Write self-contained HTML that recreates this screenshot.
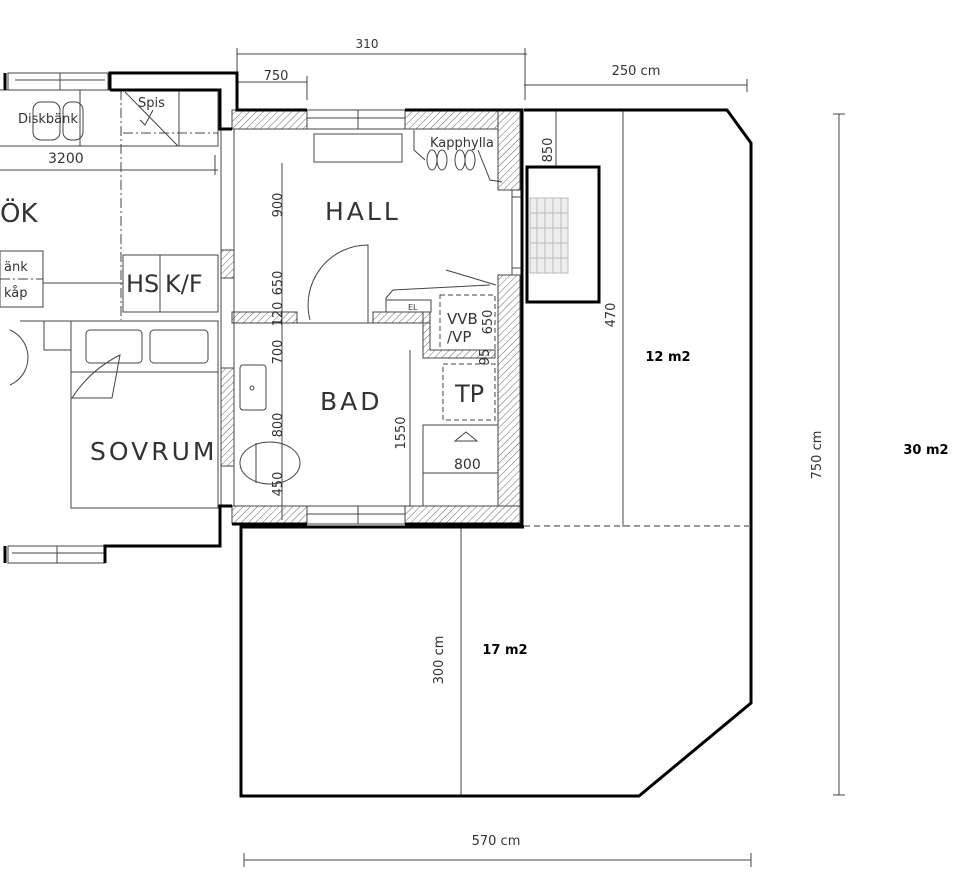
<!DOCTYPE html>
<html><head><meta charset="utf-8"><style>
html,body{margin:0;padding:0;background:#fff;width:974px;height:882px;overflow:hidden}
svg{display:block}
text{font-family:"DejaVu Sans","Liberation Sans",sans-serif}
.pl{fill:#333}
</style></head><body>
<svg width="974" height="882" viewBox="0 0 974 882" xmlns="http://www.w3.org/2000/svg">
<defs>
<pattern id="h" width="5" height="5" patternUnits="userSpaceOnUse" patternTransform="rotate(45)">
<rect width="5" height="5" fill="#fff"/><line x1="0" y1="0" x2="0" y2="5" stroke="#666" stroke-width="1"/>
</pattern>
</defs>
<g stroke="#444" stroke-width="1" fill="none">
<rect x="232" y="110" width="75" height="19" fill="url(#h)"/>
<rect x="405" y="110" width="115" height="19" fill="url(#h)"/>
<rect x="498" y="110" width="22" height="80" fill="url(#h)"/>
<rect x="498" y="275" width="22" height="250" fill="url(#h)"/>
<rect x="232" y="506" width="75" height="18" fill="url(#h)"/>
<rect x="405" y="506" width="115" height="18" fill="url(#h)"/>
<rect x="232" y="312" width="65" height="11" fill="url(#h)"/>
<rect x="373" y="312" width="57" height="11" fill="url(#h)"/>
<path d="M423,312 H430 V350 H495 V358 H423 Z" fill="url(#h)"/>
<rect x="221" y="250" width="13" height="28" fill="url(#h)"/>
<rect x="221" y="368" width="13" height="98" fill="url(#h)"/>
<rect x="307" y="110" width="98" height="19"/><line x1="307" y1="118" x2="405" y2="118"/><line x1="358" y1="110" x2="358" y2="129"/>
<rect x="307" y="506" width="98" height="18"/><line x1="307" y1="514" x2="405" y2="514"/><line x1="358" y1="506" x2="358" y2="524"/>
<rect x="8" y="73" width="100" height="17"/><line x1="15" y1="80" x2="105" y2="80"/><line x1="60" y1="73" x2="60" y2="90"/>
<rect x="8" y="546" width="97" height="17"/><line x1="12" y1="553" x2="105" y2="553"/><line x1="57" y1="546" x2="57" y2="563"/>
<line x1="512" y1="190" x2="512" y2="275"/><rect x="512" y="268" width="9" height="7"/><rect x="512" y="190" width="9" height="7"/>
<line x1="234" y1="129" x2="234" y2="506"/><line x1="221" y1="130" x2="221" y2="506"/>
<rect x="314" y="134" width="88" height="28"/>
<line x1="234" y1="323" x2="430" y2="323"/>
<path d="M310,320 A60,60 0 0 1 368,245 V323"/>
<line x1="282" y1="163" x2="282" y2="520"/><line x1="410" y1="350" x2="410" y2="506"/>
<path d="M414,130 V150 L425,160 M478,150 L490,180 L502,182"/>
<ellipse cx="432" cy="160" rx="5" ry="10"/><ellipse cx="442" cy="160" rx="5" ry="10"/>
<ellipse cx="460" cy="160" rx="5" ry="10"/><ellipse cx="470" cy="160" rx="5" ry="10"/>
<path d="M386,312 V298 L393,290 L490,285 M446,270 L496,285"/>
<rect x="386" y="300" width="45" height="12"/>
<rect x="440" y="295" width="55" height="55" stroke-dasharray="5,3"/>
<rect x="443" y="364" width="52" height="56" stroke-dasharray="5,3"/>
<path d="M423,506 V425 H498 M423,473 H498"/>
<path d="M455,441 L466,432 L477,441 Z"/>
<rect x="240" y="365" width="26" height="45" rx="3"/><circle cx="252" cy="388" r="2"/>
<ellipse cx="270" cy="463" rx="30" ry="21"/><line x1="256" y1="443" x2="256" y2="483"/>
<path d="M0,90 H218 V146 H0" /><line x1="80" y1="90" x2="80" y2="146"/><line x1="179" y1="90" x2="179" y2="146"/>
<rect x="33" y="102" width="27" height="38" rx="8"/><rect x="63" y="102" width="20" height="38" rx="8"/>
<path d="M125,92 L178,146 M153,110 L145,125 L140,120"/>
<line x1="121" y1="90" x2="121" y2="320" stroke-dasharray="10,3,2,3"/>
<line x1="123" y1="133" x2="218" y2="133" stroke-dasharray="10,3,2,3"/>
<line x1="0" y1="170" x2="218" y2="170"/><line x1="215" y1="155" x2="215" y2="175"/>
<rect x="123" y="255" width="95" height="57"/><line x1="160" y1="255" x2="160" y2="312"/>
<rect x="0" y="251" width="43" height="56"/><line x1="43" y1="283" x2="123" y2="283"/>
<line x1="0" y1="279" x2="43" y2="279" stroke-dasharray="10,3,2,3"/>
<path d="M20,321 H218 V508 H71 V321 M44,321 V350 H71"/>
<path d="M10,330 A30,30 0 0 1 10,385"/>
<rect x="86" y="330" width="56" height="33" rx="4"/><rect x="150" y="330" width="58" height="33" rx="4"/>
<line x1="71" y1="372" x2="218" y2="372"/>
<path d="M72,398 Q90,370 120,355 L112,398 Z"/>
<line x1="237" y1="54" x2="527" y2="54"/><line x1="237" y1="48" x2="237" y2="110"/><line x1="525" y1="48" x2="525" y2="100"/>
<line x1="237" y1="82" x2="307" y2="82"/><line x1="307" y1="76" x2="307" y2="100"/>
<line x1="524" y1="85" x2="747" y2="85"/><line x1="747" y1="79" x2="747" y2="92"/>
<line x1="556" y1="110" x2="556" y2="167"/><line x1="623" y1="110" x2="623" y2="527"/>
<line x1="461" y1="527" x2="461" y2="796"/>
<line x1="244" y1="860" x2="751" y2="860"/><line x1="244" y1="853" x2="244" y2="867"/><line x1="751" y1="853" x2="751" y2="867"/>
<line x1="839" y1="114" x2="839" y2="795"/><line x1="833" y1="114" x2="845" y2="114"/><line x1="833" y1="795" x2="845" y2="795"/>
</g>
<g stroke="#000" stroke-width="3" fill="none">
<path d="M5,73 V90 M110,90 V73 H237 V110 H307 M405,110 H522 V524 H405 M307,524 H232"/>
<path d="M110,90 H220 V129 H232"/>
<path d="M232,506 H220 V546 H105 V563 M5,546 V563"/>
<path d="M524,110 H727 L751,143 V703 L639,796 H241 V527 H524"/>
<rect x="527" y="167" width="72" height="135"/>
</g>
<line x1="524" y1="526" x2="751" y2="526" stroke="#999" stroke-width="2" stroke-dasharray="6,4"/>
<g stroke="#bbb" stroke-width="1" fill="#eee">
<rect x="530" y="198" width="38" height="75"/>
<path d="M530,213 H568 M530,228 H568 M530,243 H568 M530,258 H568 M537,198 V273 M545,198 V273 M553,198 V273 M561,198 V273" fill="none"/>
</g>
<g class="pl">
<text x="367" y="48" font-size="12" text-anchor="middle">310</text>
<text x="276" y="80" font-size="13" text-anchor="middle">750</text>
<text x="636" y="75" font-size="13" text-anchor="middle">250 cm</text>
<text x="496" y="845" font-size="13" text-anchor="middle">570 cm</text>
<text x="48" y="163" font-size="14">3200</text>
<text x="18" y="123" font-size="13">Diskbänk</text>
<text x="138" y="107" font-size="13">Spis</text>
<text x="0" y="222" font-size="26">ÖK</text>
<text x="4" y="271" font-size="13">änk</text><text x="4" y="297" font-size="13">kåp</text>
<text x="126" y="292" font-size="24">HS</text><text x="165" y="292" font-size="24">K/F</text>
<text x="325" y="220" font-size="25" letter-spacing="3">HALL</text>
<text x="320" y="410" font-size="25" letter-spacing="3">BAD</text>
<text x="90" y="460" font-size="25" letter-spacing="3">SOVRUM</text>
<text x="430" y="147" font-size="13">Kapphylla</text>
<text x="447" y="324" font-size="15">VVB</text><text x="447" y="342" font-size="15">/VP</text>
<text x="455" y="402" font-size="24">TP</text>
<text x="454" y="469" font-size="14">800</text>
<text x="408" y="310" font-size="8">EL</text>
<g font-size="13">
<text transform="translate(282,205) rotate(-90)" text-anchor="middle">900</text>
<text transform="translate(282,283) rotate(-90)" text-anchor="middle">650</text>
<text transform="translate(282,314) rotate(-90)" text-anchor="middle">120</text>
<text transform="translate(282,352) rotate(-90)" text-anchor="middle">700</text>
<text transform="translate(282,425) rotate(-90)" text-anchor="middle">800</text>
<text transform="translate(282,484) rotate(-90)" text-anchor="middle">450</text>
<text transform="translate(405,433) rotate(-90)" text-anchor="middle">1550</text>
<text transform="translate(492,322) rotate(-90)" text-anchor="middle">650</text>
<text transform="translate(489,357) rotate(-90)" text-anchor="middle">95</text>
<text transform="translate(552,150) rotate(-90)" text-anchor="middle">850</text>
<text transform="translate(615,315) rotate(-90)" text-anchor="middle">470</text>
<text transform="translate(443,660) rotate(-90)" text-anchor="middle">300 cm</text>
<text transform="translate(821,455) rotate(-90)" text-anchor="middle">750 cm</text>
</g>
</g>
<g font-size="13" font-weight="bold" fill="#000">
<text x="668" y="361" text-anchor="middle">12 m2</text>
<text x="926" y="454" text-anchor="middle">30 m2</text>
<text x="505" y="654" text-anchor="middle">17 m2</text>
</g>
</svg>
</body></html>
